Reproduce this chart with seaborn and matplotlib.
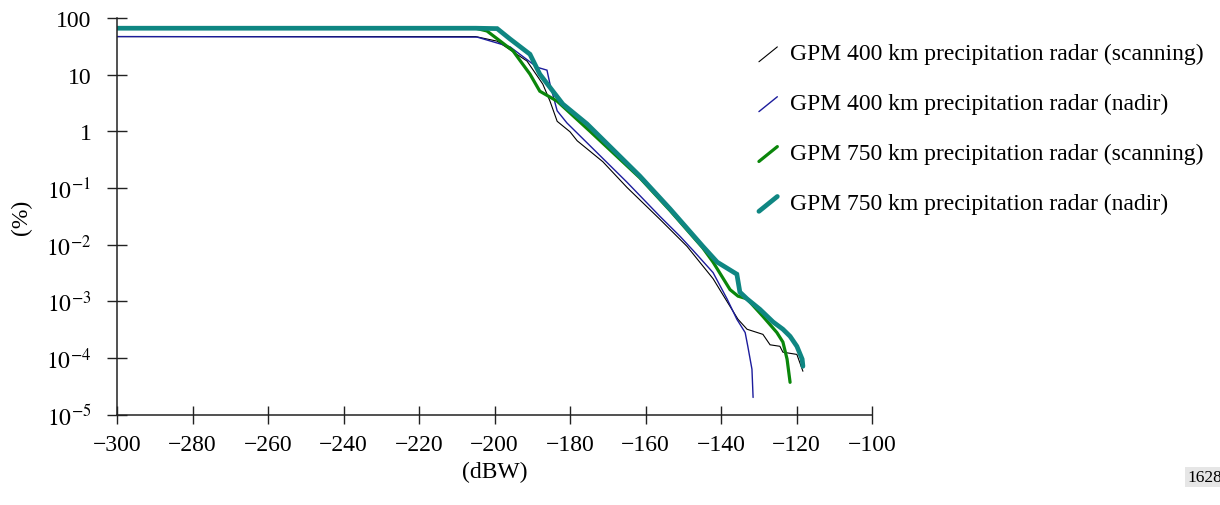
import numpy as np
import pandas as pd
import matplotlib
matplotlib.use("Agg")
import matplotlib.pyplot as plt
import seaborn as sns
from matplotlib.legend_handler import HandlerLine2D
from matplotlib.lines import Line2D

# ---------------- data ----------------
x_ticks = [-300, -280, -260, -240, -220, -200, -180, -160, -140, -120, -100]
y_ticks = [1e2, 1e1, 1e0, 1e-1, 1e-2, 1e-3, 1e-4, 1e-5]
y_tick_labels = ["100", "10", "1", r"$10^{-1}$", r"$10^{-2}$", r"$10^{-3}$",
                 r"$10^{-4}$", r"$10^{-5}$"]

labels = ["GPM 400 km precipitation radar (scanning)",
          "GPM 400 km precipitation radar (nadir)",
          "GPM 750 km precipitation radar (scanning)",
          "GPM 750 km precipitation radar (nadir)"]

s400_x = [-300, -205, -199.3, -191.4, -187.2, -185.3, -183.4, -180.0, -178.1,
          -171.3, -164.9, -156.2, -149.0, -142.1, -139.5, -135.5, -133.1,
          -128.9, -127.0, -124.4, -123.6, -119.9, -118.3]
s400_y = [47, 47, 39, 17.4, 6.8, 3.4, 1.5, 0.98, 0.68,
          0.29, 0.102, 0.028, 0.0093, 0.0025, 0.0013, 4.8e-4, 3.2e-4,
          2.6e-4, 1.7e-4, 1.6e-4, 1.26e-4, 1.15e-4, 5.8e-5]

n400_x = [-300, -204.6, -195.9, -188.7, -186.1, -185.3, -183.4, -180.8,
          -164.9, -156.2, -150.9, -147.4, -142.1, -138.4, -135.8, -133.6,
          -132.9, -131.8, -131.5]
n400_y = [47, 46, 31, 13.5, 12.0, 6.8, 2.3, 1.4,
          0.126, 0.0316, 0.0141, 0.0079, 0.0032, 0.0011, 4.8e-4, 2.8e-4,
          1.6e-4, 6.3e-5, 2.0e-5]

s750_x = [-300, -205, -202, -195.1, -190.6, -188.0, -183.4, -174.7, -161.5,
          -153.5, -144.8, -142.1, -137.6, -135.5, -133.1, -128.9, -125.2,
          -123.6, -122.5, -121.7]
s750_y = [66, 66, 59, 26.3, 10.2, 5.1, 3.4, 1.0, 0.151,
          0.040, 0.0087, 0.0049, 0.0016, 0.00123, 0.0011, 5.4e-4, 2.8e-4,
          1.9e-4, 9.5e-5, 3.7e-5]

n750_x = [-300, -205, -199.3, -195.9, -190.6, -188.0, -181.9, -175.5, -161.5,
          -153.5, -144.8, -141.0, -135.8, -135.0, -133.1, -129.7, -126.2,
          -123.6, -121.7, -119.9, -118.5, -118.3]
n750_y = [66, 66, 65, 42.7, 22.9, 10.2, 3.02, 1.35, 0.162,
          0.0427, 0.0093, 0.0049, 0.0030, 0.00145, 0.0011, 7.2e-4, 4.3e-4,
          3.2e-4, 2.4e-4, 1.6e-4, 9.5e-5, 7.1e-5]

# ---------------- style ----------------
sns.set_style("white")
plt.rcParams["font.family"] = ["Liberation Serif", "DejaVu Serif"]
plt.rcParams["mathtext.fontset"] = "stix"
plt.rcParams["axes.unicode_minus"] = True
plt.rcParams["text.color"] = "black"
plt.rcParams["axes.labelcolor"] = "black"

series = [
    (s400_x, s400_y, labels[0], "#000000", 0.8),
    (n400_x, n400_y, labels[1], "#1c1c9c", 1.0),
    (s750_x, s750_y, labels[2], "#0a860a", 2.3),
    (n750_x, n750_y, labels[3], "#0f8682", 3.4),
]

fig = plt.figure(figsize=(12.2, 5.06), dpi=100)
ax = fig.add_axes([117 / 1220, 1 - 415.5 / 506, 755 / 1220, 396.5 / 506])

handles = []
for xs, ys, lab, col, lw in series:
    df = pd.DataFrame({"x": xs, "y": ys})
    sns.lineplot(data=df, x="x", y="y", ax=ax, color=col, linewidth=lw,
                 sort=False, estimator=None, label=lab, legend=False,
                 solid_joinstyle="miter")
    handles.append(Line2D([], [], color=col, linewidth=lw))

ax.set_yscale("log")
ax.set_xlim(-300, -100)
ax.set_ylim(1e-5, 100)
ax.set_xticks(x_ticks)
ax.set_xticklabels([f"\u2212{abs(v)}" for v in x_ticks])
ax.set_yticks(y_ticks)
ax.set_yticklabels(y_tick_labels)
ax.yaxis.set_minor_locator(matplotlib.ticker.NullLocator())

for s in ["top", "right"]:
    ax.spines[s].set_visible(False)
for s in ["left", "bottom"]:
    ax.spines[s].set_color("#222222")
    ax.spines[s].set_linewidth(1.1)

ax.tick_params(axis="x", bottom=True, direction="inout", length=12.5,
               width=1.0, colors="#222222", labelcolor="black",
               labelsize=17, pad=8)
ax.tick_params(axis="y", left=True, direction="inout", length=15, width=1.0,
               colors="#222222", labelcolor="black", labelsize=17, pad=11)

ax.set_xlabel("(dBW)", fontsize=17)
ax.set_ylabel("(%)", fontsize=17)
ax.xaxis.set_label_coords(0.5, -0.118)
ax.yaxis.set_label_coords(-0.1126, 0.5)


class DiagHandler(HandlerLine2D):
    def create_artists(self, legend, orig_handle, xdescent, ydescent,
                       width, height, fontsize, trans):
        x0 = -xdescent + 0.25 * width
        x1 = -xdescent + 0.85 * width
        y0 = -ydescent - 0.15 * height
        y1 = -ydescent + 0.75 * height
        line = Line2D([x0, x1], [y0, y1])
        line.update_from(orig_handle)
        line.set_transform(trans)
        return [line]


leg = fig.legend(handles, labels, loc="upper left",
                 bbox_to_anchor=(730 / 1220, 1 - 22.5 / 506),
                 frameon=False, fontsize=17, handlelength=1.3,
                 handletextpad=0.35, labelspacing=1.2,
                 handler_map={Line2D: DiagHandler()})

fig.text(1187 / 1220, 1 - 478 / 506, "1628", fontsize=12.5, ha="left",
         va="center",
         bbox=dict(facecolor="#e6e6e6", edgecolor="none", pad=1.5))

fig.savefig("out.png", dpi=100)
